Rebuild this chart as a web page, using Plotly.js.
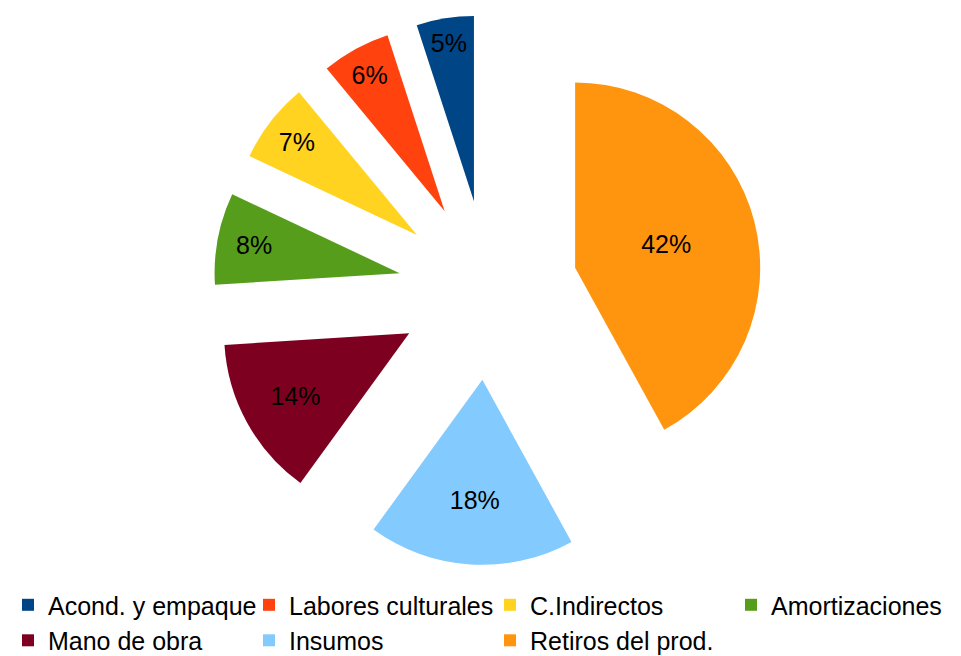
<!DOCTYPE html>
<html>
<head>
<meta charset="utf-8">
<script src="https://cdn.plot.ly/plotly-3.0.1.min.js"></script>
<style>html,body{margin:0;padding:0;background:#fff;}#chart{width:961px;height:656px;}</style>
</head>
<body>
<div id="chart"></div>
<script>
const labels = ["Acond. y empaque", "Labores culturales", "C.Indirectos", "Amortizaciones", "Mano de obra", "Insumos", "Retiros del prod."];
const values = [5, 6, 7, 8, 14, 18, 42];
const colors = ["#004586", "#ff420e", "#ffd320", "#579d1c", "#7e0021", "#83caff", "#ff950e"];

const trace = {
  type: "pie",
  labels: labels,
  values: values,
  sort: false,
  direction: "counterclockwise",
  rotation: -18,
  pull: labels.map(() => 0.486),
  marker: { colors: colors, line: { width: 0 } },
  textinfo: "percent",
  texttemplate: "%{percent:.0%}",
  textposition: "inside",
  insidetextorientation: "horizontal",
  textfont: { family: "Liberation Sans, Arial, sans-serif", size: 25, color: "#000000" },
  hoverinfo: "label+percent",
  domain: { x: [0.0156, 1], y: [0, 1] }
};

const layout = {
  width: 961,
  height: 656,
  margin: { l: 0, r: 0, t: 15, b: 91, autoexpand: false },
  paper_bgcolor: "#ffffff",
  plot_bgcolor: "#ffffff",
  showlegend: true,
  legend: {
    orientation: "h",
    x: 0.0083,
    xanchor: "left",
    y: -0.031,
    yanchor: "top",
    entrywidth: 196,
    traceorder: "normal",
    font: { family: "Liberation Sans, Arial, sans-serif", size: 25, color: "#000000" }
  }
};

Plotly.newPlot("chart", [trace], layout, { displayModeBar: false, staticPlot: true });
</script>
</body>
</html>
